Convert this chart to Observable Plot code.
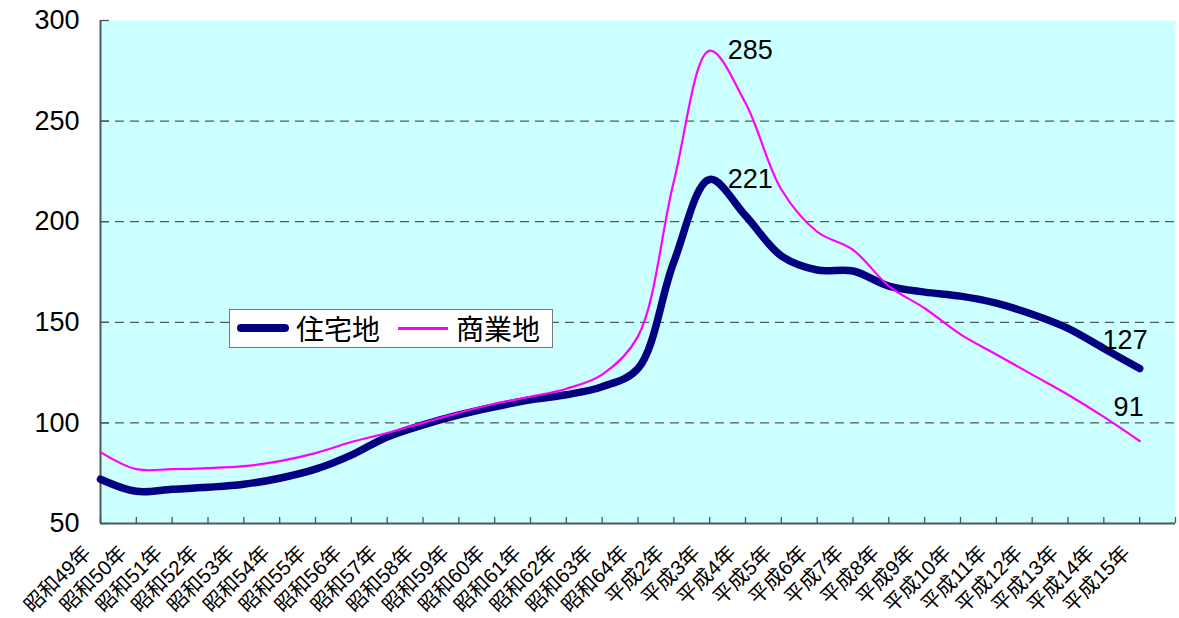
<!DOCTYPE html>
<html><head><meta charset="utf-8">
<script src="https://cdn.jsdelivr.net/npm/d3@7"></script>
<script src="https://cdn.jsdelivr.net/npm/@observablehq/plot@0.6"></script>
<style>
body{margin:0;background:#fff;font-family:'Liberation Sans','Noto Sans CJK JP',sans-serif;}
#wrap{position:relative;width:1179px;height:618px;}
#legend{position:absolute;left:229px;top:309px;width:322px;height:37px;background:#fff;border:1.5px solid #777;}
#legend .sw{position:absolute;}
#legend .lb{position:absolute;top:2px;font-size:28px;line-height:33px;color:#000;font-family:'Noto Sans CJK JP','Liberation Sans',sans-serif;}
</style></head>
<body><div id="wrap"><div id="chart"></div>
<div id="legend">
  <div class="sw" style="left:7px;top:14px;width:52px;height:8px;border-radius:4px;background:#000080"></div>
  <div class="lb" style="left:66px">住宅地</div>
  <div class="sw" style="left:168px;top:17px;width:50px;height:2.5px;background:#ff00ff"></div>
  <div class="lb" style="left:226px">商業地</div>
</div></div>
<script>
const categories = ["昭和49年","昭和50年","昭和51年","昭和52年","昭和53年","昭和54年","昭和55年","昭和56年","昭和57年","昭和58年","昭和59年","昭和60年","昭和61年","昭和62年","昭和63年","昭和64年","平成2年","平成3年","平成4年","平成5年","平成6年","平成7年","平成8年","平成9年","平成10年","平成11年","平成12年","平成13年","平成14年","平成15年"];
const residential = [72,66,67,68,69.5,72.5,77,84,93,99,104,108,111.5,114,118,127,180,221,203,183,176,175.5,168,165,163,159.5,154,147,137,127];
const commercial = [85.5,77,77,77.5,78.5,81,85,90.5,95,100,105,109.5,113,117,124,143,220,285,259,216,195,186,168,157,144,134,124,114,103,91];
const yTicks = [50,100,150,200,250,300];
const gridValues = [100,150,200,250];

const resData = residential.map((v,i)=>({i, v}));
const comData = commercial.map((v,i)=>({i, v}));
const font = "'Liberation Sans','Noto Sans CJK JP',sans-serif";

const chart = Plot.plot({
  width: 1179, height: 618,
  marginLeft: 100, marginRight: 4, marginTop: 20, marginBottom: 95,
  style: {fontFamily: font, background: "#fff", color: "#000"},
  x: {domain: [0, categories.length], axis: null},
  y: {domain: [50, 300], axis: null},
  marks: [
    Plot.frame({fill: "#ccffff", stroke: null}),
    Plot.ruleY(gridValues, {stroke: "#333", strokeWidth: 1, strokeDasharray: "9,6"}),
    Plot.ruleX(d3.range(categories.length + 1), {x: d => d, stroke: "#4a5a5a", strokeWidth: 1.3, insetTop: 497}),
    Plot.ruleY(yTicks, {y: d => d, stroke: "#4a5a5a", strokeWidth: 1.3, insetRight: 1066}),
    Plot.ruleX([0], {stroke: "#4a5a5a", strokeWidth: 2}),
    Plot.ruleY([50], {stroke: "#4a5a5a", strokeWidth: 2}),
    Plot.axisY({ticks: yTicks, label: null, tickSize: 0, tickPadding: 21, fontSize: 27, tickFormat: d => d}),
    Plot.axisX({ticks: d3.range(categories.length), label: null, tickFormat: i => categories[i], tickRotate: -45, tickSize: 0, tickPadding: 26, dx: -13, fontSize: 20.5}),
    Plot.line(resData, {x: "i", y: "v", stroke: "#000080", strokeWidth: 7.5, curve: "catmull-rom", strokeLinecap: "round", strokeLinejoin: "round"}),
    Plot.line(comData, {x: "i", y: "v", stroke: "#ff00ff", strokeWidth: 2.2, curve: "catmull-rom"}),
    Plot.text([comData[17], resData[17]], {x: "i", y: "v", text: d => String(d.v), textAnchor: "start", dx: 18, fontSize: 27, fill: "#000"}),
    Plot.text([resData[29]], {x: "i", y: "v", text: d => String(d.v), textAnchor: "end", dx: 8, dy: -28, fontSize: 27, fill: "#000"}),
    Plot.text([comData[29]], {x: "i", y: "v", text: d => String(d.v), textAnchor: "end", dx: 4, dy: -34, fontSize: 27, fill: "#000"})
  ]
});
document.getElementById("chart").appendChild(chart);
</script></body></html>
